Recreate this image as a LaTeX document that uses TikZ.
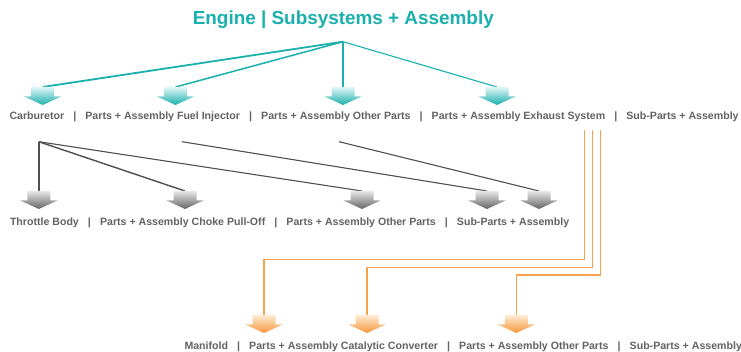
\documentclass[tikz,border=0pt]{standalone}
\usepackage{fontspec}
\setmainfont{Liberation Sans}
\definecolor{tealC}{RGB}{26,176,173}
\definecolor{tealL}{RGB}{226,246,246}
\definecolor{tealM}{RGB}{96,200,198}
\definecolor{greyT}{RGB}{99,99,99}
\definecolor{greyLn}{RGB}{80,80,80}
\definecolor{greyAL}{RGB}{232,232,232}
\definecolor{greyAM}{RGB}{165,165,165}
\definecolor{greyAD}{RGB}{100,100,100}
\definecolor{orangeC}{RGB}{247,162,80}
\definecolor{orangeL}{RGB}{254,236,214}
\definecolor{orangeM}{RGB}{250,190,125}
\definecolor{orangeD}{RGB}{246,150,55}
\newcommand{\sepbar}{\hspace{9.1pt}|\hspace{9.1pt}}
% name, x, ytop, light, mid, dark
\newcommand{\DownArrow}[6]{%
  \coordinate (#1) at (#2,#3);
  \shade[top color=#4, middle color=#5, bottom color=#6]
    (#2-11.5,#3) -- ++(23,0) -- ++(0,9.5) -- ++(7,0) -- ++(-18.5,8.5)
    -- ++(-18.5,-8.5) -- ++(7,0) -- cycle;}
\tikzset{
  lbl/.style={inner sep=0pt, anchor=base west, text=greyT,
    font=\fontsize{10.6}{12}\selectfont\bfseries},
  ttl/.style={inner sep=0pt, anchor=base, text=tealC,
    font=\fontsize{18.9}{22}\selectfont\bfseries},
  tealline/.style={draw=tealC, line width=1.5pt},
  greyline/.style={draw=greyLn, line width=1.1pt},
  orangeline/.style={draw=orangeC, line width=1.2pt},
}
\begin{document}
\begin{tikzpicture}[x=1pt,y=-1pt]
\useasboundingbox (0,0) rectangle (741,352);
\clip (0,0) rectangle (741,352);
\fill[white] (0,0) rectangle (741,352);

% title
\node[ttl] (title) at (343.3,25) {Engine | Subsystems + Assembly};
\coordinate (hub) at (343,41.7);

% row labels
\node[lbl] (row1) at (9.3,119.5) {Carburetor\sepbar Parts + Assembly Fuel Injector\sepbar Parts + Assembly Other Parts\sepbar Parts + Assembly Exhaust System\sepbar Sub-Parts + Assembly};
\node[lbl] (row2) at (9.8,225.5) {Throttle Body\sepbar Parts + Assembly Choke Pull-Off\sepbar Parts + Assembly Other Parts\sepbar Sub-Parts + Assembly};
\node[lbl] (row3) at (184.3,349.8) {Manifold\sepbar Parts + Assembly Catalytic Converter\sepbar Parts + Assembly Other Parts\sepbar Sub-Parts + Assembly};

% named coordinates for arrow tops and line starts
\coordinate (a1) at (42.7,87);
\coordinate (a2) at (175.5,87);
\coordinate (a3) at (343,87);
\coordinate (a4) at (497,87);
\coordinate (g0) at (38.8,141.7);
\coordinate (g1) at (182,141.7);
\coordinate (g2) at (339,141.7);
\coordinate (b1) at (38.8,191);
\coordinate (b2) at (185,191);
\coordinate (b3) at (362,191);
\coordinate (b4) at (487,191);
\coordinate (b5) at (539,191);
\coordinate (o1) at (584.3,130);
\coordinate (o2) at (592.5,130);
\coordinate (o3) at (600.8,130);
\coordinate (k1) at (0,259.3);
\coordinate (k2) at (0,267.3);
\coordinate (k3) at (0,275);
\coordinate (c1) at (264,315);
\coordinate (c2) at (367,315);
\coordinate (c3) at (516.3,315);

% teal connectors
\draw[tealline, line width=1.8pt] (hub) -- (a1);
\draw[tealline] (hub) -- (a2);
\draw[tealline, line width=1.8pt] (hub) -- (a3);
\draw[tealline, line width=1.1pt] (hub) -- (a4);

% grey connectors
\draw[greyline, line width=1.5pt] (g0) -- (b1);
\draw[greyline, line width=1.4pt] (g0) -- (b2);
\draw[greyline] (g0) -- (b3);
\draw[greyline] (g1) -- (b4);
\draw[greyline] (g2) -- (b5);

% orange connectors
\draw[orangeline] (o1) |- (k1 -| c1) -- (c1);
\draw[orangeline] (o2) |- (k2 -| c2) -- (c2);
\draw[orangeline] (o3) |- (k3 -| c3) -- (c3);

% arrows
\DownArrow{A1}{42.7}{87}{tealL}{tealM}{tealC}
\DownArrow{A2}{175.5}{87}{tealL}{tealM}{tealC}
\DownArrow{A3}{343}{87}{tealL}{tealM}{tealC}
\DownArrow{A4}{497}{87}{tealL}{tealM}{tealC}
\DownArrow{B1}{38.8}{191}{greyAL}{greyAM}{greyAD}
\DownArrow{B2}{185}{191}{greyAL}{greyAM}{greyAD}
\DownArrow{B3}{362}{191}{greyAL}{greyAM}{greyAD}
\DownArrow{B4}{487}{191}{greyAL}{greyAM}{greyAD}
\DownArrow{B5}{539}{191}{greyAL}{greyAM}{greyAD}
\DownArrow{C1}{264}{315}{orangeL}{orangeM}{orangeD}
\DownArrow{C2}{367}{315}{orangeL}{orangeM}{orangeD}
\DownArrow{C3}{516.3}{315}{orangeL}{orangeM}{orangeD}
\end{tikzpicture}
\end{document}
